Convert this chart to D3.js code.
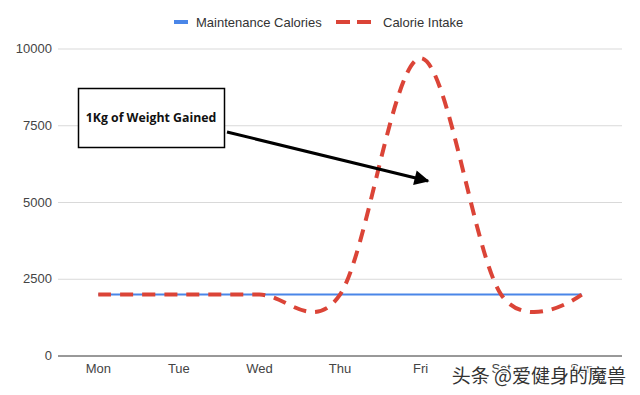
<!DOCTYPE html>
<html><head><meta charset="utf-8">
<script src="https://cdn.jsdelivr.net/npm/d3@7"></script>
<style>body{margin:0;background:#fff}svg{display:block}</style>
</head><body>
<svg id="c" width="640" height="395"></svg>
<script>
const days = ["Mon","Tue","Wed","Thu","Fri","Sat","Sun"];
const maintenance = [2000,2000,2000,2000,2000,2000,2000];
const intake = [2000,2000,2000,2000,9700,2000,2000];
const yTicks = [0,2500,5000,7500,10000];
const seriesNames = ["Maintenance Calories","Calorie Intake"];
const annotation = "1Kg of Weight Gained";
const watermark = "头条 @爱健身的魔兽";

const svg = d3.select("#c");
const x = d3.scalePoint().domain(days).range([58,622]).padding(0.5);
const y = d3.scaleLinear().domain([0,10000]).range([356,49]);
const font = "Arial, 'Liberation Sans', sans-serif";

// gridlines
svg.append("g").selectAll("line").data(yTicks.filter(d=>d>0)).join("line")
  .attr("x1",58).attr("x2",622).attr("y1",d=>y(d)).attr("y2",d=>y(d))
  .attr("stroke","#d9d9d9").attr("stroke-width",1);
svg.append("line").attr("x1",58).attr("x2",622).attr("y1",y(0)).attr("y2",y(0))
  .attr("stroke","#333").attr("stroke-width",1);

// y labels
svg.append("g").selectAll("text").data(yTicks).join("text")
  .attr("x",52).attr("y",d=>y(d)+4).attr("text-anchor","end")
  .attr("font-family",font).attr("font-size",13).attr("fill","#444").text(d=>d);

// x labels
svg.append("g").selectAll("text").data(days).join("text")
  .attr("x",d=>x(d)).attr("y",373).attr("text-anchor","middle")
  .attr("font-family",font).attr("font-size",13).attr("fill","#444").text(d=>d);

// lines
const line = d3.line().x((d,i)=>x(days[i])).y(d=>y(d));
svg.append("path").datum(maintenance).attr("d",line).attr("fill","none")
  .attr("stroke","#4a86e8").attr("stroke-width",2);
const curved = d3.line().x((d,i)=>x(days[i])).y(d=>y(d)).curve(d3.curveCardinal.tension(0));
svg.append("path").datum(intake).attr("d",curved).attr("fill","none")
  .attr("stroke","#db4437").attr("stroke-width",4).attr("stroke-dasharray","13,9");

// legend
const lg = svg.append("g");
lg.append("line").attr("x1",174).attr("x2",188).attr("y1",22).attr("y2",22).attr("stroke","#4a86e8").attr("stroke-width",4);
lg.append("text").attr("x",196).attr("y",27).attr("font-family",font).attr("font-size",13).attr("fill","#333").text(seriesNames[0]);
lg.append("line").attr("x1",336).attr("x2",372).attr("y1",22).attr("y2",22).attr("stroke","#db4437").attr("stroke-width",4).attr("stroke-dasharray","14,7");
lg.append("text").attr("x",383).attr("y",27).attr("font-family",font).attr("font-size",13).attr("fill","#333").text(seriesNames[1]);

// annotation
svg.append("defs").append("marker").attr("id","ah").attr("viewBox","0 0 10 10")
  .attr("refX",9).attr("refY",5).attr("markerWidth",6).attr("markerHeight",5)
  .attr("markerUnits","strokeWidth").attr("orient","auto")
  .append("path").attr("d","M0,0L10,5L0,10z").attr("fill","#000");
svg.append("line").attr("x1",227).attr("y1",132).attr("x2",428).attr("y2",181)
  .attr("stroke","#000").attr("stroke-width",3).attr("marker-end","url(#ah)");
svg.append("rect").attr("x",78.5).attr("y",88.5).attr("width",146).attr("height",59)
  .attr("fill","#fff").attr("stroke","#000").attr("stroke-width",1.5);
svg.append("text").attr("x",151).attr("y",122).attr("text-anchor","middle")
  .attr("font-family","'Open Sans', sans-serif").attr("font-weight","bold").attr("font-size",12.3)
  .attr("fill","#111").text(annotation);

// watermark
svg.append("text").attr("x",626).attr("y",383).attr("text-anchor","end")
  .attr("font-family","'Noto Sans CJK SC', sans-serif").attr("font-size",19)
  .attr("fill","#333").attr("stroke","#fff").attr("stroke-width",2.5).attr("paint-order","stroke")
  .text(watermark);
</script>
</body></html>
